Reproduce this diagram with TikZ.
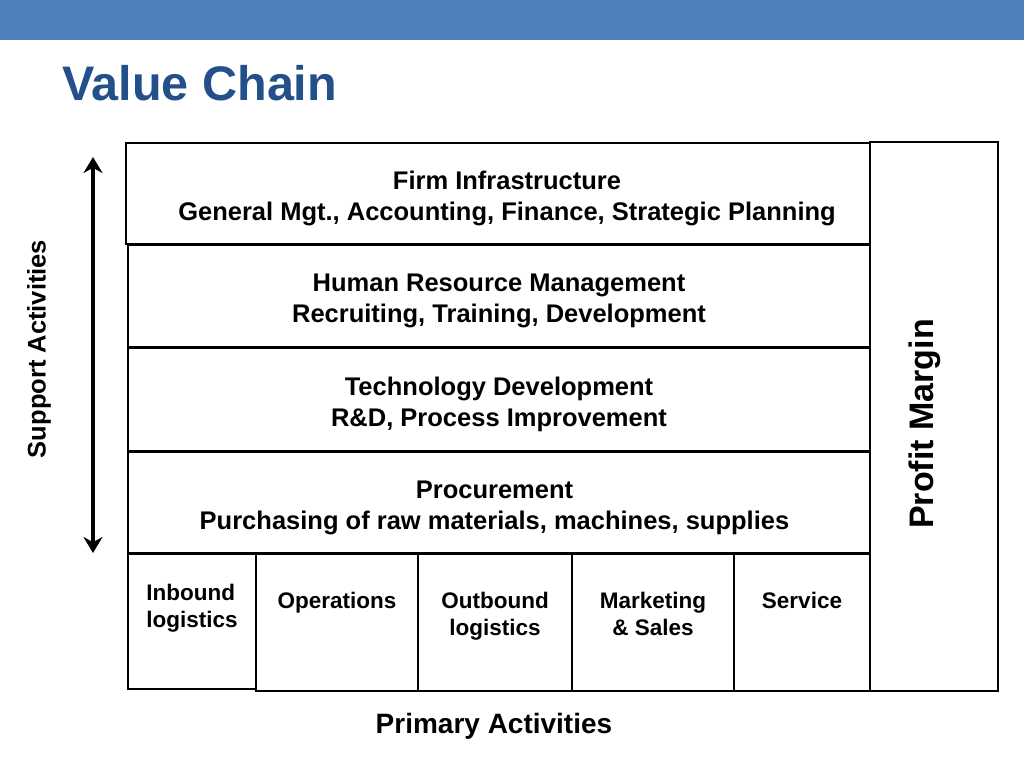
\documentclass[tikz,border=0pt]{standalone}
\usepackage{fontspec}
\setmainfont{Liberation Sans}
\usepackage{xcolor}
\usepackage{tikz}
\usetikzlibrary{calc,arrows.meta,positioning}
\definecolor{bar}{HTML}{4F81BD}
\definecolor{title}{HTML}{23508A}
\tikzset{
  box/.style={draw=black, line width=2.8pt, inner sep=0pt},
  stext/.style={font=\bfseries\fontsize{25.5}{31}\selectfont, align=center},
  ptext/.style={font=\bfseries\fontsize{22.5}{27}\selectfont, align=center, inner sep=0pt},
  side/.style={font=\bfseries\fontsize{25.5}{30}\selectfont, rotate=90},
  sarrow/.style={line width=4.5pt, {Stealth[length=16pt,width=19pt]}-{Stealth[length=16pt,width=19pt]}}
}

\begin{document}
\begin{tikzpicture}[x=1pt, y=-1pt]
  \useasboundingbox (0,0) rectangle (1024,768);
  \fill[bar] (0,0) rectangle (1024,40);
  \node[anchor=base west, inner sep=0pt, text=title, font=\bfseries\fontsize{48.5}{58}\selectfont] (ttl) at (62,100) {Value Chain};

  % support activities
  \node[box, minimum width=744pt, minimum height=101pt] (firm) at (498,193.5) {};
  \node[box, minimum width=742pt, minimum height=102pt] (hrm) at (499,296) {};
  \node[box, minimum width=742pt, minimum height=103pt] (tech) at (499,399.5) {};
  \node[box, minimum width=742pt, minimum height=101pt] (proc) at (499,502.5) {};
  \node[stext] (firmt) at ($(firm.center)+(9,4.5)$)
    {Firm Infrastructure\\General Mgt., Accounting, Finance, Strategic Planning};
  \node[stext] (hrmt) at ($(hrm.center)+(0,5)$)
    {Human Resource Management\\Recruiting, Training, Development};
  \node[stext] (techt) at ($(tech.center)+(0,5)$)
    {Technology Development\\R\&D, Process Improvement};
  \node[stext] (proct) at ($(proc.center)+(-4.5,5)$)
    {Procurement\\Purchasing of raw materials, machines, supplies};

  % primary activities
  \node[box, minimum width=128pt, minimum height=135pt] (inb) at (192,621.5) {};
  \node[box, minimum width=162pt, minimum height=137pt] (ops) at (337,622.5) {};
  \node[box, minimum width=154pt, minimum height=137pt] (outb) at (495,622.5) {};
  \node[box, minimum width=162pt, minimum height=137pt] (mkt) at (653,622.5) {};
  \node[box, minimum width=136pt, minimum height=137pt] (serv) at (802,622.5) {};
  \node[ptext, align=left, below=31pt of inb.north] (inbt) {Inbound\\logistics};
  \node[ptext, below=39pt of ops.north] (opst) {Operations};
  \node[ptext, below=39pt of outb.north] (outbt) {Outbound\\logistics};
  \node[ptext, below=39pt of mkt.north] (mktt) {Marketing\\\& Sales};
  \node[ptext, below=39pt of serv.north] (servt) {Service};

  % margin
  \node[box, minimum width=128pt, minimum height=549pt] (marg) at (934,416.5) {};
  \node[font=\bfseries\fontsize{34}{40}\selectfont, rotate=90] (margt) at (925,424) {Profit Margin};

  % side labels
  \coordinate (atop) at (93,157);
  \coordinate (abot) at (93,553);
  \draw[sarrow] (atop) -- (abot);
  \node[side] (supp) at (39,349) {Support Activities};
  \node[font=\bfseries\fontsize{28}{34}\selectfont] (prim) at (494,726) {Primary Activities};
\end{tikzpicture}
\end{document}
